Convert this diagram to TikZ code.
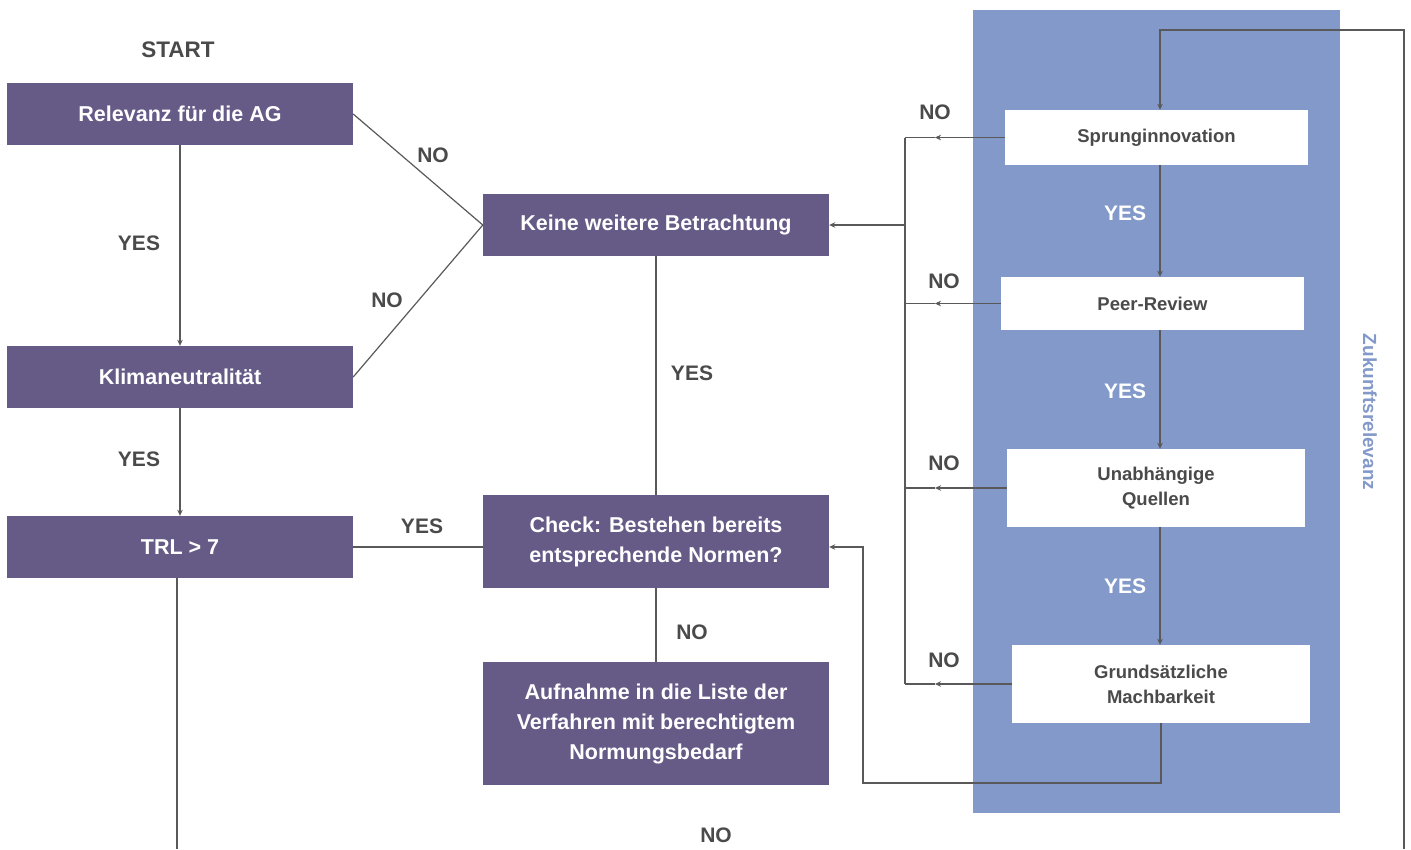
\documentclass[tikz,border=0pt]{standalone}
\usepackage{fontspec}
\setmainfont{Liberation Sans}
\usetikzlibrary{arrows.meta}
\definecolor{boxpurple}{HTML}{665A87}
\definecolor{panelblue}{HTML}{8299CA}
\definecolor{txtgray}{HTML}{4A4A4A}
\definecolor{linegray}{HTML}{595959}
\begin{document}
\begin{tikzpicture}[x=1pt,y=-1pt,
  pbox/.style={fill=boxpurple, text=white, font=\fontsize{21.5}{30}\selectfont\bfseries,
    minimum width=346pt, align=center, inner sep=0pt},
  wbox/.style={fill=white, text=txtgray, font=\fontsize{18.5}{25}\selectfont\bfseries,
    align=center, inner sep=0pt},
  lbl/.style={text=txtgray, font=\fontsize{21}{24}\selectfont\bfseries, inner sep=0pt},
  conn/.style={draw=linegray, line width=1.2pt},
  arr/.style={conn, -{Stealth[length=6pt,width=5.5pt]}}]
\useasboundingbox (0,0) rectangle (1411,849);

% background panel for the future-relevance checks
\node[fill=panelblue, minimum width=367pt, minimum height=803pt, inner sep=0pt] (panel) at (1156.5,411.5) {};
\node[text=panelblue, font=\fontsize{19}{22}\selectfont\bfseries, rotate=-90] (zuk) at (1370,412) {Zukunftsrelevanz};

% left column
\node[lbl, font=\fontsize{22.5}{26}\selectfont\bfseries] (start) at (178,50) {START};
\node[pbox, minimum height=62pt] (rel) at (180,114) {Relevanz für die AG};
\node[pbox, minimum height=62pt] (klima) at (180,377) {Klimaneutralität};
\node[pbox, minimum height=62pt] (trl) at (180,547) {TRL > 7};

% middle column
\node[pbox, minimum height=62pt] (keine) at (656,225) {Keine weitere Betrachtung};
\node[pbox, minimum height=93pt] (check) at (656,541.5) {Check: Bestehen bereits\\entsprechende Normen?};
\node[pbox, minimum height=123pt] (aufn) at (656,723.5) {Aufnahme in die Liste der\\Verfahren mit berechtigtem\\Normungsbedarf};

% right column (white boxes on the panel)
\node[wbox, minimum width=303pt, minimum height=55pt] (sprung) at (1156.5,137.5) {Sprunginnovation};
\node[wbox, minimum width=303pt, minimum height=53pt] (peer) at (1152.5,303.5) {Peer-Review};
\node[wbox, minimum width=298pt, minimum height=78pt] (unab) at (1156,488) {Unabhängige\\Quellen};
\node[wbox, minimum width=298pt, minimum height=78pt] (grund) at (1161,684) {Grundsätzliche\\Machbarkeit};

% helper coordinates
\coordinate (bus) at (905,0);
\coordinate (arrx) at (935,0);
\coordinate (xline) at (1160,0);
\coordinate (botL) at (177,849);
\coordinate (botR) at (1404,849);
\coordinate (topR) at (1404,30);
\coordinate (ret) at (863,783);

% left column connectors
\draw[arr] (rel.south) -- (klima.north);
\draw[arr] (klima.south) -- (trl.north);
\draw[conn] (trl.south -| botL) -- (botL);
\draw[conn] (rel.east) -- (keine.west);
\draw[conn] (klima.east) -- (keine.west);
\draw[conn] (trl.east) -- (trl.east -| check.west);
\draw[conn] (keine.south) -- (check.north);
\draw[conn] (check.south) -- (aufn.north);

% right column connectors
\draw[conn] (sprung.west -| bus) -- (grund.west -| bus);
\draw[arr] (keine.east -| bus) -- (keine.east);
\foreach \b in {sprung,peer,unab,grund}{
  \draw[arr] (\b.west) -- (\b.west -| arrx);
  \draw[conn] (\b.west -| arrx) -- (\b.west -| bus);
}
\draw[arr] (sprung.south -| xline) -- (peer.north -| xline);
\draw[arr] (peer.south -| xline) -- (unab.north -| xline);
\draw[arr] (unab.south -| xline) -- (grund.north -| xline);
\draw[arr] (grund.south) |- (ret) |- ([yshift=-5.5pt]check.east);
\draw[arr] (botR) -- (topR) -| (sprung.north -| xline);

% labels
\node[lbl] (y1) at (139,243) {YES};
\node[lbl] (y2) at (139,459) {YES};
\node[lbl] (n1) at (433,155) {NO};
\node[lbl] (n2) at (387,300) {NO};
\node[lbl] (y3) at (422,526) {YES};
\node[lbl] (y4) at (692,373) {YES};
\node[lbl] (n3) at (692,632) {NO};
\node[lbl] (n4) at (716,835) {NO};
\node[lbl] (n5) at (935,112) {NO};
\node[lbl] (n6) at (944,281) {NO};
\node[lbl] (n7) at (944,463) {NO};
\node[lbl] (n8) at (944,660) {NO};
\node[lbl, text=white] (y5) at (1125,213) {YES};
\node[lbl, text=white] (y6) at (1125,391) {YES};
\node[lbl, text=white] (y7) at (1125,586) {YES};
\end{tikzpicture}
\end{document}
